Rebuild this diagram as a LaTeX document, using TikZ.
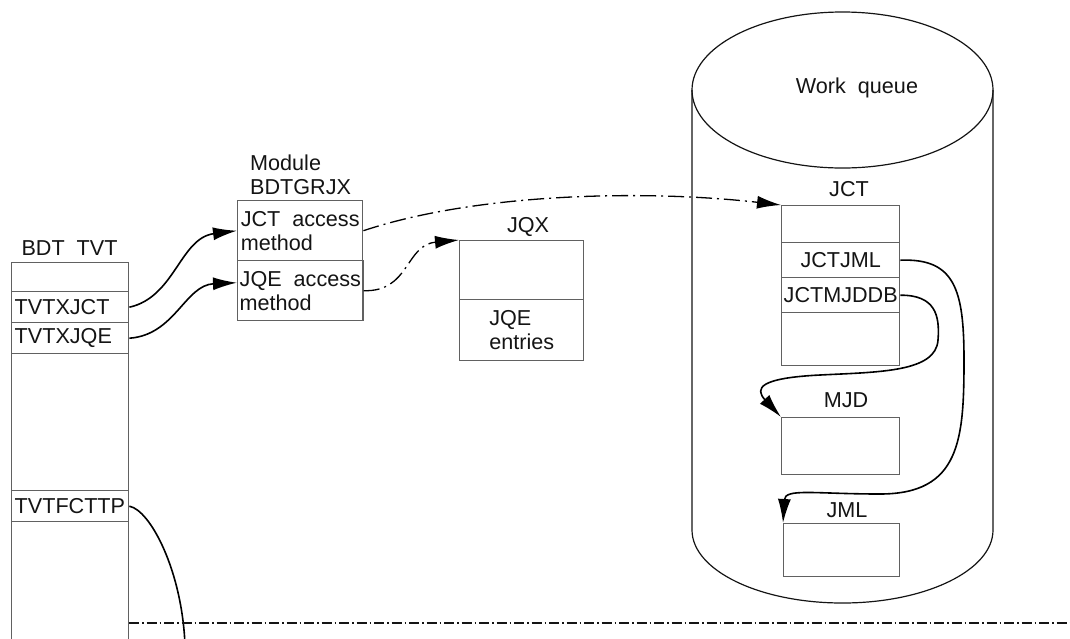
\documentclass[tikz,border=0pt]{standalone}
\usepackage{fontspec}
\setmainfont{Liberation Sans}
\usetikzlibrary{arrows.meta}
\definecolor{boxgray}{gray}{0.38}
\definecolor{ink}{gray}{0.08}
\begin{document}
\begin{tikzpicture}[x=1pt,y=-1pt,
  every node/.style={font=\fontsize{21.6}{24}\selectfont, text=ink},
  cell/.style={draw=boxgray, line width=1.4pt, rectangle, anchor=north west, inner sep=0pt},
  tcell/.style={minimum width=117pt, text width=111pt, inner xsep=3pt, align=left},
  lab/.style={inner sep=0pt, anchor=base},
  ptr/.style={draw=black, line width=1.6pt, -{Latex[length=24pt,width=13pt]}},
  dashptr/.style={ptr, line width=1.3pt, dash pattern=on 16pt off 5pt on 2pt off 5pt},
  plainptr/.style={draw=black, line width=1.6pt},
  cyl/.style={draw=ink, line width=1.2pt},
  divider/.style={draw=ink, line width=1.1pt, dash pattern=on 10pt off 3pt on 1.5pt off 3pt}
]
\useasboundingbox (0,0) rectangle (1070,638);

% BDT TVT
\node[lab] (tvtlab) at (69.5,255) {BDT\ \ TVT};
\node[cell, minimum width=117pt, minimum height=29pt] (tvt0) at (11,262) {};
\node[cell, tcell, minimum height=31pt] (tvtjct) at (11,291) {TVTXJCT};
\node[cell, tcell, minimum height=31pt] (tvtjqe) at (11,322) {TVTXJQE};
\node[cell, minimum width=117pt, minimum height=137pt] (tvtmid) at (11,353) {};
\node[cell, tcell, minimum height=31pt] (tvtfct) at (11,490) {TVTFCTTP};
\node[cell, minimum width=117pt, minimum height=130pt] (tvtrest) at (11,521) {};

% Module BDTGRJX
\node[inner sep=0pt, anchor=south west, align=left] (modlab) at (250,195) {Module\\BDTGRJX};
\node[cell, minimum width=125pt, minimum height=60pt, inner xsep=2pt, align=left] (modjct) at (237,200) {JCT~~access\\method};
\node[cell, minimum width=125pt, minimum height=60pt, inner xsep=2pt, align=left] (modjqe) at (237,260) {JQE~~access\\method};

% JQX
\node[lab] (jqxlab) at (528,232) {JQX};
\node[cell, minimum width=124pt, minimum height=59pt] (jqx0) at (459,240) {};
\node[cell, minimum width=124pt, minimum height=61pt, align=left] (jqxe) at (459,299) {JQE\\entries};

% Work queue cylinder
\draw[cyl] (842.5,90) ellipse [x radius=150.5pt, y radius=78pt];
\draw[cyl] (692,90) -- (692,530) arc[start angle=180, end angle=360, x radius=150.5pt, y radius=73pt] -- (993,90);
\node[lab] (wq) at (857,93) {Work\ \ queue};

% JCT
\node[lab] (jctlab) at (849,196) {JCT};
\node[cell, minimum width=118pt, minimum height=37pt] (jct0) at (781,205) {};
\node[cell, minimum width=118pt, minimum height=35pt] (jctjml) at (781,242) {JCTJML};
\node[cell, minimum width=118pt, minimum height=35pt] (jctmjd) at (781,277) {JCTMJDDB};
\node[cell, minimum width=118pt, minimum height=53pt] (jct3) at (781,312) {};

% MJD
\node[lab] (mjdlab) at (846,407) {MJD};
\node[cell, minimum width=118pt, minimum height=57pt] (mjd) at (781,417) {};

% JML
\node[lab] (jmllab) at (847,517) {JML};
\node[cell, minimum width=116pt, minimum height=53pt] (jml) at (783,523) {};

% connectors
\draw[ptr] (tvtjct.east) .. controls (175,297) and (180,238) .. (modjct.west);
\draw[ptr] (tvtjqe.east) .. controls (175,335) and (185,285) .. ([yshift=8pt]modjqe.west);
\draw[dashptr] (modjct.east) .. controls (480,192) and (650,190) .. (jct0.north west);
\draw[dashptr] (modjqe.east) .. controls (410,292) and (405,245) .. (jqx0.north west);
\draw[ptr] (jctjml.east) .. controls (955,258) and (964,290) .. (964,360)
   .. controls (964,440) and (960,494) .. (880,494)
   .. controls (815,494) and (785,488) .. (jml.north west);
\draw[ptr] (jctmjd.east) .. controls (935,295) and (940,315) .. (938,340)
   .. controls (936,372) and (880,372) .. (820,375)
   .. controls (760,378) and (754,388) .. (mjd.north west);
\coordinate (fctend) at (185,645);
\draw[plainptr] (tvtfct.east) .. controls (150,510) and (182,570) .. (fctend);

% divider
\coordinate (dl) at (129,623);
\coordinate (dr) at (1070,623);
\draw[divider] (dl) -- (dr);
\end{tikzpicture}
\end{document}
